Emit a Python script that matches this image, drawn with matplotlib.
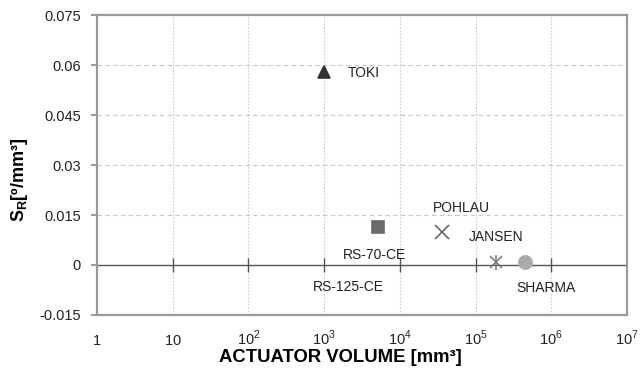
import numpy as np
import matplotlib
matplotlib.use("Agg")
import matplotlib.pyplot as plt
from matplotlib.ticker import FixedLocator, FixedFormatter, NullLocator

plt.rcParams['font.family'] = ['Liberation Sans', 'DejaVu Sans']
plt.rcParams['mathtext.fontset'] = 'custom'
plt.rcParams['mathtext.rm'] = 'Liberation Sans'
plt.rcParams['mathtext.bf'] = 'Liberation Sans:bold'

# actuators: volume [mm^3] and specific rotation S_R [deg/mm^3]
names = ['TOKI', 'RS-70-CE', 'POHLAU', 'JANSEN', 'SHARMA']
volume = [1000, 5100, 36000, 186000, 450000]
s_r = [0.058, 0.0114, 0.0100, 0.0010, 0.0009]
markers = ['^', 's', 'x', 'x', 'o']
colors = ['#333333', '#6a6a6a', '#666666', '#777777', '#aaaaaa']
sizes = [9, 8.5, 10, 9, 9.5]
# label offsets in points
offsets = [(17, -1), (-2, -20), (14, 17), (0, 18), (15, -19)]
# unmarked label
extra_name = 'RS-125-CE'
extra_pos = (2100, -0.0066)

xticks = [1, 10, 1e2, 1e3, 1e4, 1e5, 1e6, 1e7]
xticklabels = ['$1$', '$10$', '$10^2$', '$10^3$', '$10^4$', '$10^5$', '$10^6$', '$10^7$']
yticks = [-0.015, 0, 0.015, 0.03, 0.045, 0.06, 0.075]
yticklabels = ['-0.015', '0', '0.015', '0.03', '0.045', '0.06', '0.075']

fig = plt.figure(figsize=(6.4, 3.82), dpi=100)
ax = fig.add_axes([0.1516, 0.1754, 0.8281, 0.7853])
ax.set_xscale('log')
ax.set_xlim(1, 1e7)
ax.set_ylim(-0.015, 0.075)

ax.xaxis.set_major_locator(FixedLocator(xticks))
ax.xaxis.set_major_formatter(FixedFormatter(xticklabels))
ax.xaxis.set_minor_locator(NullLocator())
ax.set_yticks(yticks)
ax.set_yticklabels(yticklabels)
ax.tick_params(axis='x', length=0, pad=21.5, labelsize=10.5, colors='#222222')
ax.tick_params(axis='y', length=4, width=1.2, color='#888888', pad=7.5, labelsize=10.5, labelcolor='#222222')
# keep plain and superscripted labels on one baseline
for lab in ax.get_xticklabels():
    lab.set_va('baseline')

for sp in ax.spines.values():
    sp.set_color('#999999')
    sp.set_linewidth(1.6)

# grid: dotted verticals, dashed horizontals
for xv in xticks[1:-1]:
    ax.axvline(xv, color='#cccccc', lw=0.8, ls=(0, (1.5, 1.5)), zorder=0)
for yv in yticks[2:-1]:
    ax.axhline(yv, color='#c8c8c8', lw=0.8, ls=(0, (4, 3)), zorder=0)

# zero line with decade ticks
ax.axhline(0, color='#555555', lw=1.0, zorder=1)
zero = ax.secondary_xaxis((0 - ax.get_ylim()[0]) / (ax.get_ylim()[1] - ax.get_ylim()[0]))
zero.set_xticks(xticks[1:-1])
zero.xaxis.set_minor_locator(NullLocator())
zero.tick_params(direction='inout', length=10, width=1.0, color='#555555', labelbottom=False)
zero.spines['bottom'].set_visible(False)

for i in range(len(names)):
    if names[i] == 'JANSEN':
        ax.plot(volume[i], s_r[i], marker='x', ms=sizes[i], mew=1.1, color=colors[i], ls='none', zorder=3)
        ax.plot(volume[i], s_r[i], marker='|', ms=sizes[i] * 1.2, mew=1.1, color=colors[i], ls='none', zorder=3)
    else:
        ax.plot(volume[i], s_r[i], marker=markers[i], ms=sizes[i], mew=1.2, color=colors[i], ls='none', zorder=3)
    ax.annotate(names[i], (volume[i], s_r[i]), xytext=offsets[i], textcoords='offset points',
                ha='left' if names[i] == 'TOKI' else 'center', va='center', fontsize=10, color='#222222')

ax.text(extra_pos[0], extra_pos[1], extra_name, ha='center', va='center', fontsize=10, color='#222222')

ax.set_xlabel('ACTUATOR VOLUME [mm³]', fontsize=13.3, fontweight='bold', va='center')
ax.xaxis.set_label_coords(0.46, -0.143)
ax.set_ylabel(r'$\mathbf{S_R}$[º/mm³]', fontsize=13, fontweight='bold', va='center')
ax.yaxis.set_label_coords(-0.147, 0.45)

fig.savefig('out.png', dpi=100)
